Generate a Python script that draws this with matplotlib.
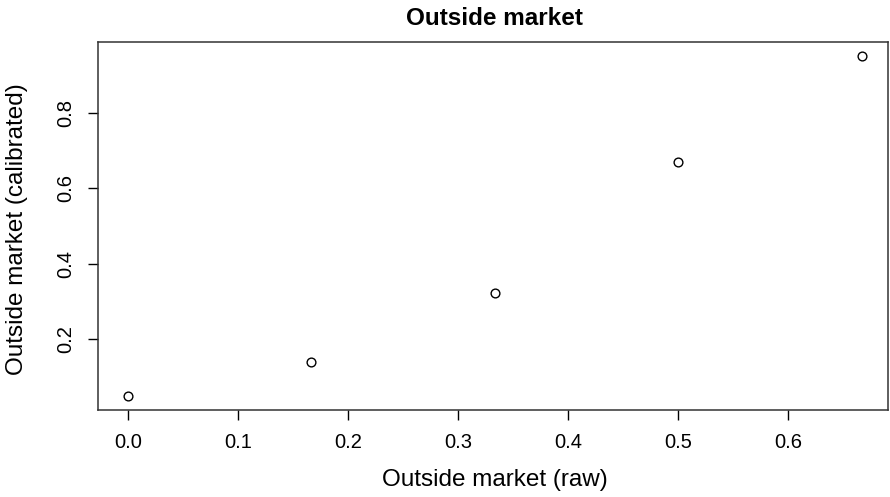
import matplotlib
matplotlib.use('Agg')
import matplotlib.pyplot as plt

# data
RAW = [0.0, 1 / 6, 1 / 3, 0.5, 2 / 3]
CALIBRATED = [0.049, 0.138, 0.321, 0.671, 0.952]
X_TICKS = [0.0, 0.1, 0.2, 0.3, 0.4, 0.5, 0.6]
Y_TICKS = [0.2, 0.4, 0.6, 0.8]

plt.rcParams['font.family'] = ['Liberation Sans', 'DejaVu Sans']

fig = plt.figure(figsize=(8.9, 4.97), dpi=100)
ax = fig.add_axes([98 / 890, 1 - 410 / 497, 790 / 890, 368 / 497])

ax.plot(RAW, CALIBRATED, linestyle='none', marker='o', markersize=6.3,
        markerfacecolor='none', markeredgecolor='black', markeredgewidth=1.0)

ax.set_xlim(-0.027, 0.6905)
ax.set_ylim(0.0114, 0.989)

ax.set_xticks(X_TICKS)
ax.set_xticklabels(['{:.1f}'.format(v) for v in X_TICKS])
ax.set_yticks(Y_TICKS)
ax.set_yticklabels(['{:.1f}'.format(v) for v in Y_TICKS], rotation=90,
                   va='center')

ax.tick_params(direction='out', length=7.2, width=1.0, labelsize=14.5,
               pad=9, colors='black')
for spine in ax.spines.values():
    spine.set_linewidth(1.1)
    spine.set_color('#333333')

fig.text(494 / 890, 1 - 18.5 / 497, 'Outside market', fontsize=17.5,
         fontweight='bold', ha='center', va='center')
fig.text(494.5 / 890, 1 - 480 / 497, 'Outside market (raw)', fontsize=17.5,
         ha='center', va='center')
fig.text(17 / 890, 1 - 229 / 497, 'Outside market (calibrated)',
         fontsize=17.5, rotation=90, ha='center', va='center')

fig.savefig('out.png', dpi=100)
